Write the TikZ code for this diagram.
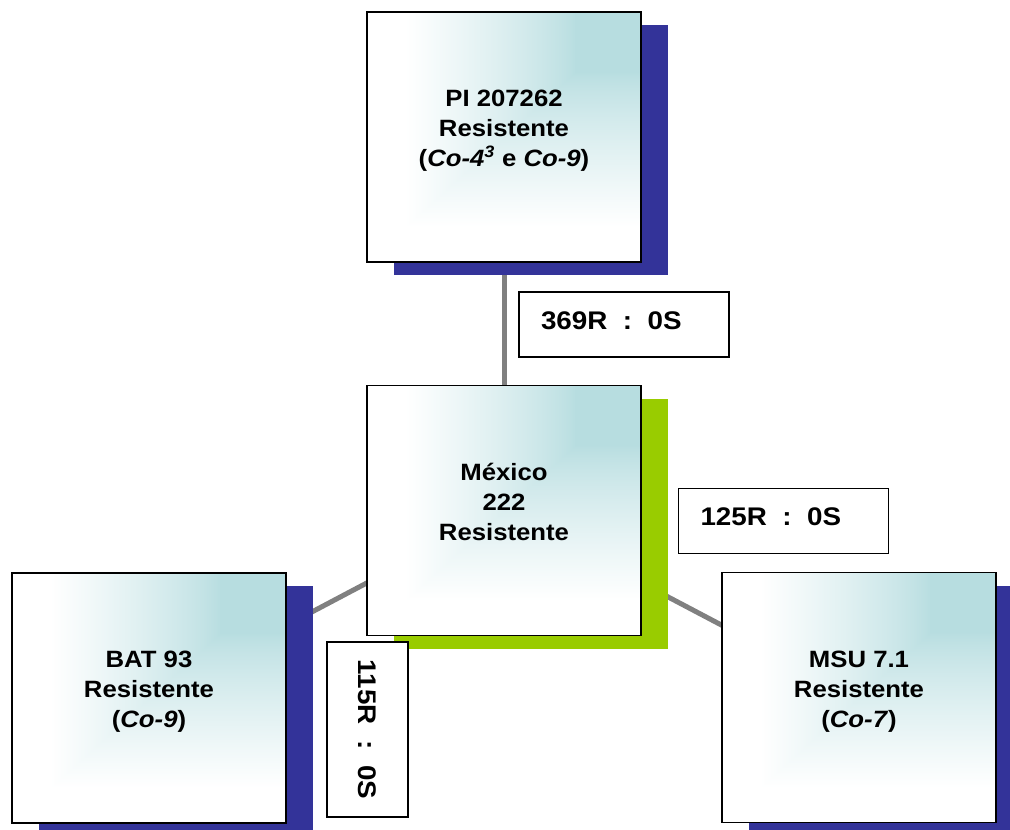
\documentclass[tikz,border=0pt]{standalone}
\usepackage{fontspec}
\setmainfont{Liberation Sans}[FakeStretch=1.09]
\usetikzlibrary{shadows,backgrounds}

\definecolor{shadowblue}{HTML}{333399}
\definecolor{shadowgreen}{HTML}{99CC00}
\definecolor{linkgray}{HTML}{808080}

% white to pale cyan, from the top right corner
\pgfdeclarefunctionalshading{cornerglow}{\pgfpoint{-50bp}{-50bp}}{\pgfpoint{50bp}{50bp}}{}{
  25 sub neg 50 div exch 25 sub neg 50 div
  2 copy lt {exch} if pop
  0.24 sub 0.62 div
  dup 0 lt {pop 0} if dup 1 gt {pop 1} if
  0.8 exp
  dup 0.282 mul 0.718 add exch
  dup 0.133 mul 0.867 add exch
  0.122 mul 0.878 add
}

\newcommand{\boxlines}[1]{\raisebox{0pt}[0pt][0pt]{\begin{tabular}{@{}c@{}}#1\end{tabular}}}

\begin{document}
\begin{tikzpicture}[x=1pt, y=-1pt,
  card/.style={draw=black, line width=1.6pt, shade, shading=cornerglow,
    minimum width=274pt, minimum height=250pt, inner sep=0pt,
    font=\fontsize{23.6}{30}\selectfont\bfseries},
  blueshadow/.style={general shadow={fill=shadowblue, shadow xshift=27pt, shadow yshift=-13pt}},
  greenshadow/.style={general shadow={fill=shadowgreen, shadow xshift=27pt, shadow yshift=-13pt}},
  tag/.style={draw=black, line width=1.6pt, fill=white, inner sep=0pt,
    minimum width=210pt, minimum height=65pt, text depth=8pt,
    font=\fontsize{25.5}{30}\selectfont\bfseries},
  link/.style={draw=linkgray, line width=5pt}]
\useasboundingbox (0,0) rectangle (1010,830);

\node[card, blueshadow] (pi) at (504,137) {\boxlines{PI 207262\\ Resistente\\ (\textit{Co-4}\textsuperscript{\textit{3}} e \textit{Co-9})}};
\node[card, greenshadow] (mex) at (504,510.5) {\boxlines{México\\ 222\\ Resistente}};
\node[card, blueshadow] (bat) at (149,698) {\boxlines{BAT 93\\ Resistente\\ (\textit{Co-9})}};
\node[card, blueshadow] (msu) at (859,697.5) {\boxlines{MSU 7.1\\ Resistente\\ (\textit{Co-7})}};

\begin{scope}[on background layer]
\draw[link] (pi.center) -- (mex.center);
\draw[link] (mex.center) -- (bat.center);
\draw[link] (mex.center) -- (msu.center);
\end{scope}

\node[tag] (tagpi) at (624,324.5) {\makebox[166pt][l]{369R\ \ :\ \ 0S}};
\node[tag] (tagmsu) at (783.5,521) {\makebox[166pt][l]{125R\ \ :\ \ 0S}};
\node[tag, rotate=-90, minimum width=175pt, minimum height=81pt, text depth=0pt] (tagbat) at (367.5,729.5) {115R\ \ :\ \ 0S};
\end{tikzpicture}
\end{document}
